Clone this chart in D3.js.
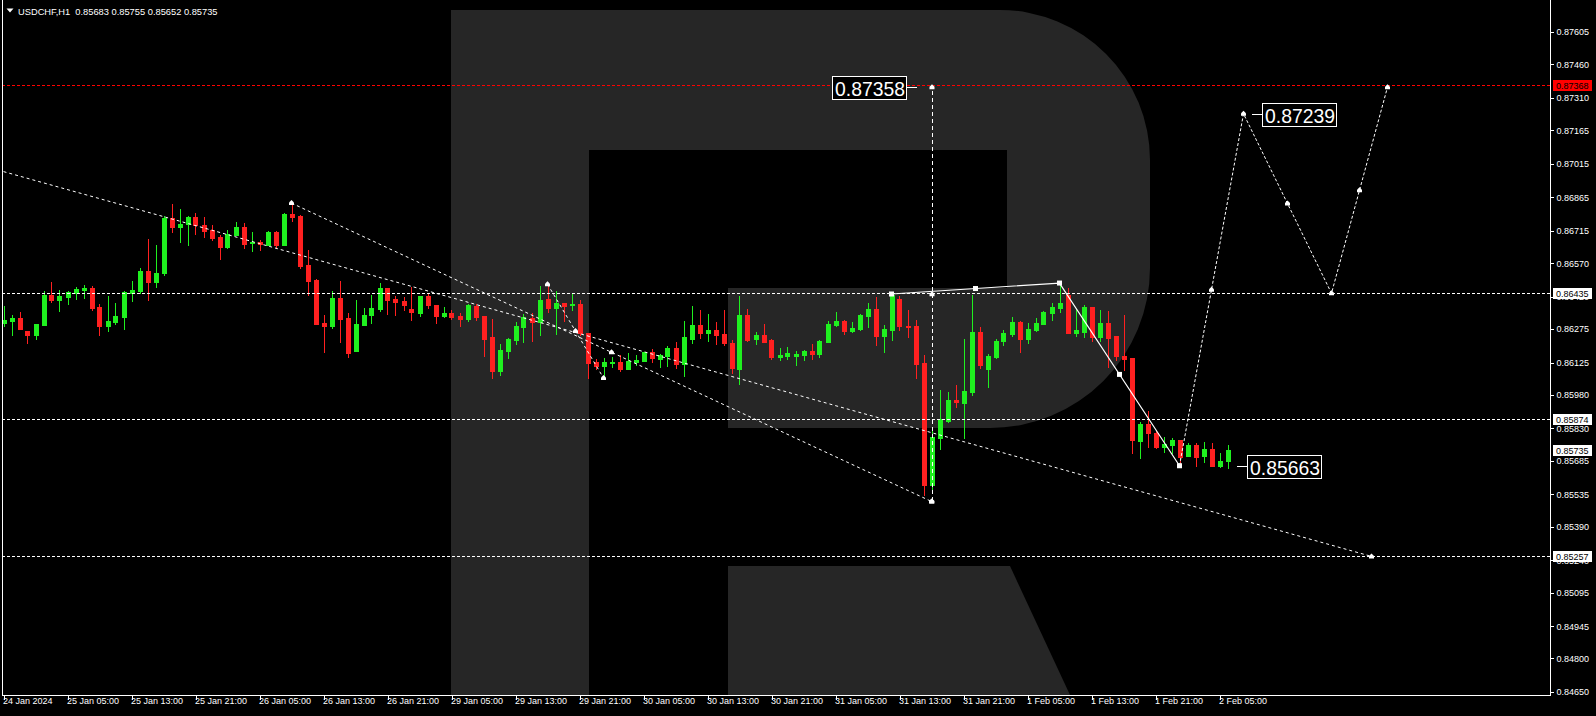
<!DOCTYPE html>
<html><head><meta charset="utf-8">
<script src="https://cdn.jsdelivr.net/npm/d3@7"></script>
<style>html,body{margin:0;padding:0;background:#000;overflow:hidden}</style>
</head><body>
<svg id="c" width="1596" height="716"></svg>
<script>
const symbol = "USDCHF,H1";
const opens = [0.86302,0.86311,0.86324,0.86266,0.86248,0.86293,0.86427,0.86405,0.86418,0.86436,0.86450,0.86458,0.86373,0.86288,0.86306,0.86328,0.86436,0.86445,0.86535,0.86485,0.86526,0.86772,0.86732,0.86745,0.86776,0.86741,0.86718,0.86687,0.86642,0.86696,0.86732,0.86660,0.86664,0.86651,0.86709,0.86651,0.86790,0.86781,0.86561,0.86494,0.86302,0.86288,0.86414,0.86324,0.86177,0.86293,0.86337,0.86364,0.86458,0.86409,
0.86400,0.86364,0.86346,0.86423,0.86382,0.86333,0.86346,0.86333,0.86319,0.86378,0.86333,0.86239,0.86087,0.86177,0.86226,0.86284,0.86324,0.86306,0.86409,0.86369,0.86391,0.86382,0.86387,0.86257,0.86127,0.86109,0.86123,0.86127,0.86096,0.86127,0.86132,0.86172,0.86141,0.86154,0.86190,0.86118,0.86230,0.86293,0.86257,0.86271,
0.86253,0.86212,0.86096,0.86337,0.86230,0.86248,0.86226,0.86150,0.86154,0.86154,0.86159,0.86177,0.86163,0.86217,0.86293,0.86311,0.86266,0.86275,0.86333,0.86364,0.86244,0.86271,0.86409,0.86288,0.86288,0.86123,0.85577,0.85787,0.85863,0.85957,0.85944,0.85993,0.86262,0.86096,0.86150,0.86221,0.86253,0.86306,0.86230,0.86271,
0.86297,0.86346,0.86369,0.86427,0.86257,0.86262,0.86373,0.86239,0.86302,0.86244,0.86154,0.86145,0.85774,0.85850,0.85809,0.85747,0.85756,0.85778,0.85707,0.85756,0.85707,0.85738,0.85662,0.85683];
const highs = [0.86378,0.86337,0.86351,0.86266,0.86297,0.86445,0.86485,0.86450,0.86445,0.86463,0.86472,0.86467,0.86387,0.86423,0.86391,0.86445,0.86490,0.86548,0.86678,0.86651,0.86781,0.86835,0.86812,0.86781,0.86794,0.86776,0.86741,0.86696,0.86718,0.86754,0.86750,0.86709,0.86673,0.86714,0.86714,0.86794,0.86839,0.86785,0.86629,0.86499,0.86337,0.86445,0.86490,0.86346,0.86405,0.86369,0.86427,0.86481,0.86458,0.86423,
0.86418,0.86463,0.86423,0.86436,0.86382,0.86373,0.86360,0.86346,0.86387,0.86387,0.86333,0.86319,0.86208,0.86235,0.86306,0.86342,0.86346,0.86467,0.86476,0.86445,0.86391,0.86432,0.86405,0.86257,0.86141,0.86145,0.86150,0.86159,0.86168,0.86159,0.86172,0.86185,0.86163,0.86199,0.86217,0.86311,0.86378,0.86360,0.86342,0.86306,
0.86360,0.86226,0.86423,0.86364,0.86262,0.86297,0.86230,0.86190,0.86194,0.86177,0.86181,0.86208,0.86226,0.86311,0.86351,0.86315,0.86306,0.86342,0.86391,0.86418,0.86293,0.86432,0.86423,0.86360,0.86315,0.86159,0.85832,0.86002,0.85993,0.86025,0.86230,0.86427,0.86284,0.86163,0.86230,0.86271,0.86328,0.86311,0.86302,0.86324,
0.86355,0.86391,0.86481,0.86458,0.86364,0.86382,0.86373,0.86360,0.86355,0.86244,0.86337,0.86145,0.85859,0.85908,0.85818,0.85792,0.85787,0.85778,0.85765,0.85765,0.85769,0.85765,0.85720,0.85755];
const lows = [0.86288,0.86248,0.86275,0.86212,0.86230,0.86293,0.86396,0.86355,0.86387,0.86409,0.86414,0.86360,0.86248,0.86266,0.86297,0.86275,0.86400,0.86436,0.86405,0.86463,0.86517,0.86709,0.86664,0.86651,0.86700,0.86687,0.86673,0.86588,0.86638,0.86696,0.86638,0.86624,0.86629,0.86651,0.86638,0.86651,0.86759,0.86548,0.86427,0.86297,0.86172,0.86279,0.86217,0.86150,0.86177,0.86293,0.86302,0.86355,0.86342,0.86337,
0.86360,0.86315,0.86333,0.86369,0.86302,0.86328,0.86319,0.86288,0.86311,0.86315,0.86154,0.86056,0.86069,0.86145,0.86208,0.86217,0.86221,0.86248,0.86351,0.86253,0.86311,0.86360,0.86248,0.86056,0.86096,0.86056,0.86105,0.86087,0.86096,0.86114,0.86132,0.86127,0.86105,0.86109,0.86100,0.86065,0.86212,0.86235,0.86221,0.86208,
0.86203,0.86078,0.86029,0.86221,0.86208,0.86217,0.86141,0.86136,0.86141,0.86114,0.86136,0.86141,0.86150,0.86217,0.86288,0.86253,0.86262,0.86271,0.86284,0.86203,0.86172,0.86226,0.86271,0.86239,0.86056,0.85532,0.85541,0.85738,0.85859,0.85926,0.85787,0.85980,0.86100,0.86016,0.86145,0.86203,0.86244,0.86172,0.86212,0.86266,
0.86297,0.86315,0.86351,0.86257,0.86244,0.86239,0.86221,0.86221,0.86105,0.86136,0.86092,0.85720,0.85698,0.85747,0.85742,0.85724,0.85720,0.85663,0.85707,0.85662,0.85680,0.85662,0.85658,0.85652];
const closes = [0.86315,0.86324,0.86275,0.86248,0.86297,0.86427,0.86405,0.86423,0.86441,0.86454,0.86458,0.86369,0.86288,0.86311,0.86333,0.86441,0.86450,0.86535,0.86485,0.86526,0.86772,0.86732,0.86745,0.86776,0.86741,0.86714,0.86683,0.86642,0.86700,0.86732,0.86656,0.86664,0.86656,0.86709,0.86651,0.86790,0.86776,0.86557,0.86490,0.86297,0.86288,0.86414,0.86319,0.86168,0.86297,0.86337,0.86369,0.86458,0.86405,0.86396,
0.86382,0.86351,0.86423,0.86382,0.86333,0.86346,0.86328,0.86319,0.86382,0.86328,0.86230,0.86087,0.86181,0.86230,0.86288,0.86328,0.86306,0.86405,0.86369,0.86391,0.86378,0.86387,0.86257,0.86123,0.86109,0.86127,0.86127,0.86096,0.86132,0.86136,0.86172,0.86145,0.86159,0.86190,0.86118,0.86239,0.86293,0.86257,0.86271,0.86248,
0.86212,0.86100,0.86337,0.86226,0.86248,0.86217,0.86150,0.86159,0.86168,0.86163,0.86177,0.86163,0.86221,0.86297,0.86311,0.86266,0.86279,0.86337,0.86364,0.86244,0.86275,0.86427,0.86288,0.86284,0.86118,0.85577,0.85792,0.85872,0.85957,0.85948,0.85998,0.86262,0.86114,0.86154,0.86221,0.86257,0.86306,0.86230,0.86275,0.86302,
0.86351,0.86373,0.86391,0.86257,0.86271,0.86373,0.86239,0.86302,0.86235,0.86154,0.86141,0.85778,0.85850,0.85809,0.85747,0.85760,0.85778,0.85702,0.85756,0.85702,0.85738,0.85662,0.85683,0.85735];

const timeLabels = ["24 Jan 2024","25 Jan 05:00","25 Jan 13:00","25 Jan 21:00","26 Jan 05:00","26 Jan 13:00","26 Jan 21:00","29 Jan 05:00","29 Jan 13:00","29 Jan 21:00","30 Jan 05:00","30 Jan 13:00","30 Jan 21:00","31 Jan 05:00","31 Jan 13:00","31 Jan 21:00","1 Feb 05:00","1 Feb 13:00","1 Feb 21:00","2 Feb 05:00"];
const labelBars = [0,8,16,24,32,40,48,56,64,72,80,88,96,104,112,120,128,136,144,152];
const yTicks = [0.87605,0.87460,0.87310,0.87165,0.87015,0.86865,0.86715,0.86570,0.86420,0.86275,0.86125,0.85980,0.85830,0.85685,0.85535,0.85390,0.85240,0.85095,0.84945,0.84800,0.84650];

const supportLevels = [0.86435, 0.85874, 0.85257];
const targetLevel = 0.87368;
const trendLines = [
  {pts:[[36,0.86839],[116,0.85503]], startMark:true},
  {pts:[[68,0.86476],[75,0.86056]], startMark:true},
  {pts:[[0,0.86980],[171,0.85257]], startMark:false}
];
const verticalLine = [[116,0.85503],[116,0.87358]];
const solidPath = [[111,0.86432],[132,0.86481],[147,0.85663]];
const forecastPath = [[147,0.85663],[155,0.87239],[166,0.86435],[173,0.87358]];
const priceTags = [{value:0.87358, bar:114.2, dir:-1},{value:0.87239, bar:156.05, dir:1},{value:0.85663, bar:154.2, dir:1}];

const W=1596, H=716, R=1550, B=695, L=2;
const bull="#1ff01f", bear="#ff2020";
const FONT='"Liberation Sans", Arial, sans-serif';
const fmt = d3.format(".5f");

const x = d3.scaleLinear().domain([0,153]).range([3.5, 3.5+8*153]);
const y = d3.scaleLinear().domain([0.84650,0.87605]).range([692,32]);

const svg = d3.select("#c");
svg.append("rect").attr("width",W).attr("height",H).attr("fill","#000");
svg.append("defs").append("clipPath").attr("id","clip").append("rect").attr("x",L).attr("y",0).attr("width",R-L).attr("height",B);

// watermark logo
const logo = svg.append("g").attr("fill","#262626");
logo.append("rect").attr("x",451).attr("y",10).attr("width",138).attr("height",685);
logo.append("path").attr("d","M589,10H1000A150,150 0 0 1 1150,160V268A160,160 0 0 1 990,428H728V288H1007V150H589Z");
logo.append("path").attr("d","M728,566H1010L1070,695H728Z");

const plot = svg.append("g").attr("clip-path","url(#clip)");

// candles
const cg = plot.append("g").attr("shape-rendering","crispEdges");
d3.range(opens.length).forEach(i=>{
  const o=opens[i], c=closes[i], h=highs[i], l=lows[i];
  const col = c>=o ? bull : bear;
  const cx = Math.round(x(i));
  const yh=Math.round(y(h)), yl=Math.round(y(l));
  cg.append("rect").attr("x",cx).attr("y",yh).attr("width",1).attr("height",Math.max(1,yl-yh+1)).attr("fill",col);
  const top=Math.round(y(Math.max(o,c))), bot=Math.round(y(Math.min(o,c)));
  cg.append("rect").attr("x",cx-2).attr("y",top).attr("width",5).attr("height",Math.max(1,bot-top+1)).attr("fill",col);
});

// horizontal levels
const lg = plot.append("g").attr("shape-rendering","crispEdges");
supportLevels.forEach(v=>{
  lg.append("line").attr("x1",L).attr("x2",R).attr("y1",Math.round(y(v))+0.5).attr("y2",Math.round(y(v))+0.5)
    .attr("stroke","#fff").attr("stroke-dasharray","3,2");
});
lg.append("line").attr("x1",L).attr("x2",R).attr("y1",Math.round(y(targetLevel))+0.5).attr("y2",Math.round(y(targetLevel))+0.5)
  .attr("stroke","#ff0000").attr("stroke-dasharray","3,2");

const P = d => [x(d[0]), y(d[1])];
function arrowMark(g,px,py){
  g.append("path").attr("d",`M${px-2.5},${py+2}V${py-0.5}L${px},${py-3}L${px+2.5},${py-0.5}V${py+2}Z`).attr("fill","#fff");
}
function squareMark(g,px,py){
  g.append("rect").attr("x",px-2.5).attr("y",py-2.5).attr("width",5).attr("height",5).attr("fill","#fff");
}
const ag = plot.append("g");
const line = d3.line().x(d=>x(d[0])).y(d=>y(d[1]));

trendLines.forEach(t=>{
  ag.append("path").attr("d",line(t.pts)).attr("fill","none").attr("stroke","#fff").attr("stroke-width",1).attr("stroke-dasharray","3,3");
  const a=P(t.pts[0]), b=P(t.pts[1]);
  if(t.startMark){ arrowMark(ag,a[0],a[1]); arrowMark(ag,(a[0]+b[0])/2,(a[1]+b[1])/2); }
  arrowMark(ag,b[0],b[1]);
});

// vertical dashed
{
  const a=P(verticalLine[0]), b=P(verticalLine[1]);
  ag.append("line").attr("x1",Math.round(a[0])+0.5).attr("x2",Math.round(b[0])+0.5).attr("y1",a[1]).attr("y2",b[1])
    .attr("stroke","#fff").attr("stroke-dasharray","4,3").attr("shape-rendering","crispEdges");
  arrowMark(ag,a[0]+0.5,a[1]); arrowMark(ag,b[0]+0.5,b[1]); arrowMark(ag,a[0]+0.5,(a[1]+b[1])/2);
}

// solid path
ag.append("path").attr("d",line(solidPath)).attr("fill","none").attr("stroke","#fff").attr("stroke-width",1.2);
solidPath.forEach((d,i)=>{
  const p=P(d); squareMark(ag,p[0],p[1]);
  if(i>0){const q=P(solidPath[i-1]); squareMark(ag,(p[0]+q[0])/2,(p[1]+q[1])/2);}
});

// forecast path
ag.append("path").attr("d",line(forecastPath)).attr("fill","none").attr("stroke","#fff").attr("stroke-width",1).attr("stroke-dasharray","3,2");
forecastPath.forEach((d,i)=>{
  const p=P(d); if(i>0) arrowMark(ag,p[0],p[1]);
  if(i>0){const q=P(forecastPath[i-1]); arrowMark(ag,(p[0]+q[0])/2,(p[1]+q[1])/2);}
});

// price tags
const tg = svg.append("g").attr("shape-rendering","crispEdges");
priceTags.forEach(t=>{
  const ax=Math.round(x(t.bar)), ay=Math.round(y(t.value))+0.5;
  const bw=74, bh=23;
  const bx = t.dir<0 ? ax-11-bw : ax+10;
  tg.append("line").attr("x1",t.dir<0?ax-11:ax).attr("x2",t.dir<0?ax:ax+10).attr("y1",ay).attr("y2",ay).attr("stroke","#fff");
  tg.append("rect").attr("x",bx+0.5).attr("y",Math.round(ay-bh/2)+0.5).attr("width",bw).attr("height",bh)
    .attr("fill","#000").attr("stroke","#fff");
  tg.append("text").attr("x",bx+3).attr("y",Math.round(ay-bh/2)+20).attr("fill","#fff")
    .attr("font-family",FONT).attr("font-size",21).attr("textLength",70).attr("lengthAdjust","spacingAndGlyphs").text(fmt(t.value));
});

// frame
const fg = svg.append("g").attr("shape-rendering","crispEdges").attr("stroke","#fff");
fg.append("line").attr("x1",L+0.5).attr("x2",L+0.5).attr("y1",0).attr("y2",B+1);
fg.append("line").attr("x1",R+0.5).attr("x2",R+0.5).attr("y1",0).attr("y2",B+1);
fg.append("line").attr("x1",L).attr("x2",R+1).attr("y1",B+0.5).attr("y2",B+0.5);

// y axis
const yAxis = svg.append("g").attr("transform",`translate(${R+0.5},0)`)
  .call(d3.axisRight(y).tickValues(yTicks).tickFormat(fmt).tickSize(3).tickPadding(3));
yAxis.select(".domain").remove();
yAxis.selectAll("line").attr("stroke","#fff").attr("shape-rendering","crispEdges");
yAxis.selectAll("text").attr("fill","#fff").attr("font-family",FONT).attr("font-size",9);

// x axis
const xAxis = svg.append("g").attr("transform",`translate(0,${B+0.5})`)
  .call(d3.axisBottom(x).tickValues(labelBars).tickFormat((d,i)=>timeLabels[i]).tickSize(4).tickPadding(3));
xAxis.select(".domain").remove();
xAxis.selectAll("line").attr("stroke","#fff").attr("shape-rendering","crispEdges");
xAxis.selectAll("text").attr("fill","#fff").attr("font-family",FONT).attr("font-size",9)
  .attr("text-anchor","start").attr("dx",-1).attr("y",2);

// axis price boxes
const lastClose = closes[closes.length-1];
const axisTags = [{v:targetLevel,c:"#ff0000"},{v:supportLevels[0],c:"#fff"},{v:supportLevels[1],c:"#fff"},{v:lastClose,c:"#fff"},{v:supportLevels[2],c:"#fff"}];
const bg = svg.append("g");
axisTags.forEach(t=>{
  const yy=Math.round(y(t.v));
  bg.append("rect").attr("x",R+3).attr("y",yy-5).attr("width",39).attr("height",11).attr("fill",t.c).attr("shape-rendering","crispEdges");
  bg.append("text").attr("x",R+6).attr("y",yy+3.5).attr("fill","#000").attr("font-family",FONT).attr("font-size",9).text(fmt(t.v));
});

// header
svg.append("path").attr("d","M6.5,8.5H13.5L10,12.5Z").attr("fill","#fff");
const li = opens.length-1;
svg.append("text").attr("x",18).attr("y",14.5).attr("fill","#fff").attr("font-family",FONT).attr("font-size",9.3)
  .style("white-space","pre")
  .text(`${symbol}  ${fmt(opens[li])} ${fmt(highs[li])} ${fmt(lows[li])} ${fmt(closes[li])}`);
</script>
</body></html>
